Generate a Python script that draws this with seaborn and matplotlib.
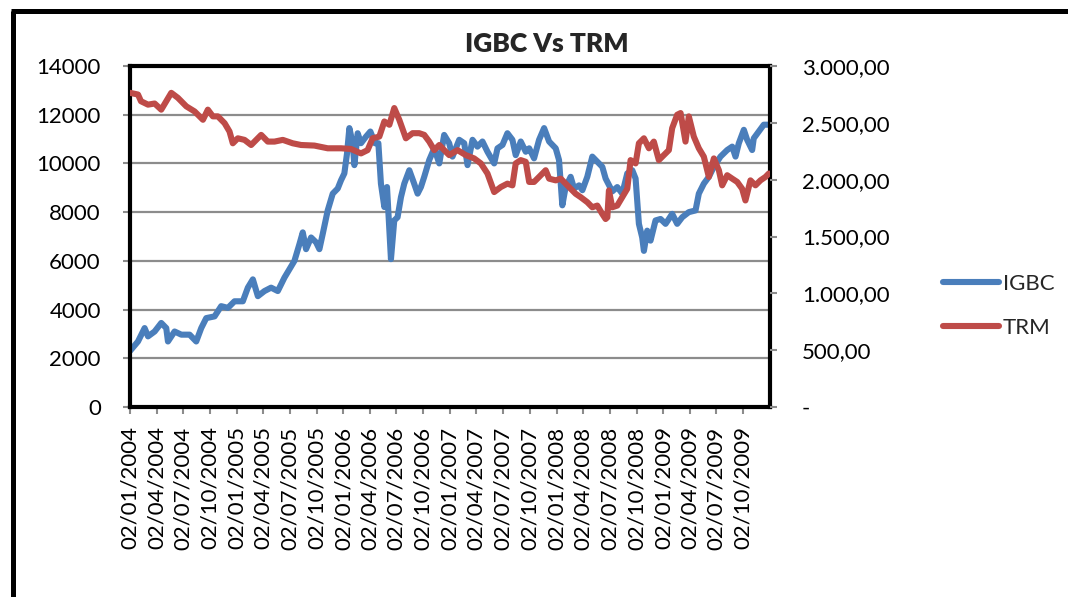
import numpy as np
import pandas as pd
import matplotlib
matplotlib.use("Agg")
import matplotlib.pyplot as plt
import matplotlib.dates as mdates
from matplotlib.lines import Line2D
import seaborn as sns

# ---------------- data (time as decimal year, 2004.0 = 02/01/2004) ----------------
igbc_t = [2004.000, 2004.075, 2004.137, 2004.169, 2004.231, 2004.293, 2004.340, 2004.356,
          2004.418, 2004.481, 2004.559, 2004.621, 2004.668, 2004.715, 2004.793, 2004.855,
          2004.918, 2004.980, 2005.058, 2005.105, 2005.152, 2005.199, 2005.261, 2005.323,
          2005.386, 2005.448, 2005.542, 2005.589, 2005.620, 2005.651, 2005.698, 2005.745,
          2005.776, 2005.807, 2005.854, 2005.901, 2005.948, 2005.979, 2006.010, 2006.035,
          2006.057, 2006.088, 2006.104, 2006.135, 2006.166, 2006.213, 2006.254, 2006.297,
          2006.329, 2006.353, 2006.385, 2006.410, 2006.447, 2006.478, 2006.509, 2006.541,
          2006.572, 2006.619, 2006.659, 2006.697, 2006.728, 2006.759, 2006.806, 2006.853,
          2006.900, 2006.946, 2006.993, 2007.024, 2007.087, 2007.134, 2007.165, 2007.212,
          2007.258, 2007.305, 2007.352, 2007.415, 2007.446, 2007.493, 2007.539, 2007.586,
          2007.617, 2007.664, 2007.711, 2007.743, 2007.789, 2007.836, 2007.883, 2007.930,
          2007.992, 2008.023, 2008.054, 2008.085, 2008.132, 2008.164, 2008.211, 2008.242,
          2008.288, 2008.335, 2008.382, 2008.429, 2008.460, 2008.522, 2008.569, 2008.616,
          2008.663, 2008.710, 2008.741, 2008.772, 2008.803, 2008.819, 2008.850, 2008.881,
          2008.928, 2008.975, 2009.022, 2009.053, 2009.084, 2009.131, 2009.178, 2009.240,
          2009.303, 2009.334, 2009.381, 2009.428, 2009.475, 2009.537, 2009.600, 2009.647,
          2009.678, 2009.709, 2009.756, 2009.787, 2009.834, 2009.849, 2009.896, 2009.943,
          2009.990]
igbc_v = [2300, 2690, 3240, 2900, 3100, 3450, 3240, 2690,
          3100, 2970, 2970, 2690, 3240, 3650, 3720, 4140,
          4070, 4340, 4340, 4900, 5240, 4550, 4760, 4900,
          4760, 5310, 6000, 6690, 7170, 6480, 6960, 6760,
          6480, 7100, 8070, 8760, 8970, 9310, 9590, 10410,
          11450, 10830, 9930, 11240, 10830, 11100, 11310, 10830,
          10830, 9170, 8210, 9030, 6070, 7660, 7790, 8620,
          9170, 9720, 9240, 8760, 9030, 9450, 10140, 10620,
          10000, 11170, 10830, 10280, 10970, 10830, 9930, 10970,
          10690, 10900, 10480, 10000, 10620, 10760, 11240, 10970,
          10340, 10900, 10480, 10620, 10210, 10970, 11450, 10900,
          10620, 10140, 8280, 9030, 9450, 8970, 9100, 8900,
          9450, 10280, 10070, 9860, 9380, 8850, 9030, 8760,
          9590, 9720, 9380, 7520, 6960, 6410, 7240, 6830,
          7660, 7720, 7520, 7720, 7930, 7520, 7790, 8000,
          8070, 8760, 9170, 9450, 9860, 10280, 10550, 10690,
          10280, 10830, 11380, 10970, 10550, 11030, 11310, 11590,
          11590]

trm_t = [2004.000, 2004.075, 2004.103, 2004.169, 2004.231, 2004.293, 2004.340, 2004.387,
         2004.449, 2004.528, 2004.606, 2004.684, 2004.730, 2004.777, 2004.824, 2004.887,
         2004.933, 2004.964, 2005.011, 2005.074, 2005.136, 2005.230, 2005.292, 2005.355,
         2005.433, 2005.526, 2005.604, 2005.729, 2005.854, 2005.979, 2006.072, 2006.166,
         2006.228, 2006.275, 2006.338, 2006.385, 2006.432, 2006.478, 2006.525, 2006.587,
         2006.650, 2006.712, 2006.759, 2006.806, 2006.853, 2006.900, 2006.946, 2006.993,
         2007.071, 2007.149, 2007.227, 2007.290, 2007.352, 2007.415, 2007.477, 2007.539,
         2007.586, 2007.617, 2007.664, 2007.711, 2007.743, 2007.789, 2007.836, 2007.898,
         2007.930, 2007.992, 2008.039, 2008.085, 2008.132, 2008.179, 2008.226, 2008.288,
         2008.335, 2008.382, 2008.429, 2008.460, 2008.476, 2008.491, 2008.522, 2008.569,
         2008.616, 2008.663, 2008.694, 2008.741, 2008.772, 2008.819, 2008.866, 2008.912,
         2008.959, 2009.006, 2009.053, 2009.084, 2009.131, 2009.163, 2009.209, 2009.240,
         2009.287, 2009.334, 2009.381, 2009.428, 2009.475, 2009.522, 2009.553, 2009.600,
         2009.647, 2009.694, 2009.740, 2009.771, 2009.818, 2009.865, 2009.912, 2009.959,
         2009.990]
trm_v = [2764, 2749, 2690, 2660, 2670, 2616, 2690, 2764,
         2720, 2645, 2600, 2527, 2616, 2557, 2557, 2497,
         2424, 2320, 2364, 2350, 2305, 2394, 2335, 2335,
         2350, 2320, 2305, 2300, 2276, 2276, 2270, 2231,
         2260, 2364, 2379, 2512, 2483, 2630, 2527, 2364,
         2409, 2409, 2394, 2335, 2260, 2305, 2260, 2216,
         2260, 2216, 2187, 2143, 2054, 1891, 1935, 1965,
         1950, 2143, 2172, 2157, 1980, 1980, 2024, 2083,
         2009, 1994, 2009, 1965, 1920, 1876, 1846, 1802,
         1757, 1772, 1698, 1654, 1668, 1905, 1757, 1772,
         1846, 1920, 2172, 2143, 2320, 2364, 2276, 2335,
         2172, 2216, 2260, 2453, 2571, 2586, 2335, 2557,
         2379, 2276, 2202, 2024, 2187, 2083, 1950, 2039,
         2009, 1980, 1920, 1817, 1994, 1950, 1994, 2024,
         2054]

left_ticks = [0, 2000, 4000, 6000, 8000, 10000, 12000, 14000]
right_ticks = [0, 500, 1000, 1500, 2000, 2500, 3000]
right_labels = ["-", "500,00", "1.000,00", "1.500,00", "2.000,00", "2.500,00", "3.000,00"]
x_start, x_end = "2004-01-02", "2010-01-02"
x_tick_last = "2009-10-02"
title = "IGBC Vs TRM"
names = ["IGBC", "TRM"]
colors = ["#4A7EBB", "#BE4B48"]

# ---------------- styling ----------------
sns.set_style("white")
plt.rcParams['font.family'] = ['Lato', 'DejaVu Sans']
FS = 16


def to_dates(t):
    base = pd.Timestamp(x_start)
    return base + pd.to_timedelta((np.asarray(t) - 2004.0) * 365.25, unit="D")


df_igbc = pd.DataFrame({"fecha": to_dates(igbc_t), "valor": igbc_v})
df_trm = pd.DataFrame({"fecha": to_dates(trm_t), "valor": trm_v})

W, H = 1068, 597
fig = plt.figure(figsize=(W / 100, H / 100), dpi=100)
fig.patch.set_facecolor("white")
ax = fig.add_axes([130 / W, 1 - 407 / H, 640 / W, 341 / H])
ax2 = ax.twinx()

line_kw = dict(linewidth=4.4, solid_capstyle="round", solid_joinstyle="round")
sns.lineplot(data=df_igbc, x="fecha", y="valor", ax=ax, color=colors[0], **line_kw)
sns.lineplot(data=df_trm, x="fecha", y="valor", ax=ax2, color=colors[1], **line_kw)

ax.set_xlim(pd.Timestamp(x_start), pd.Timestamp(x_end))
ax.set_ylim(0, 14000)
ax2.set_ylim(0, 3000)
ax.set_xlabel("")
ax.set_ylabel("")
ax2.set_xlabel("")
ax2.set_ylabel("")

xt = pd.date_range(x_start, x_tick_last, freq=pd.DateOffset(months=3))
ax.set_xticks(xt)
ax.xaxis.set_major_formatter(mdates.DateFormatter("%d/%m/%Y"))
ax.set_yticks(left_ticks)
ax.set_yticklabels([str(v) for v in left_ticks])
ax2.set_yticks(right_ticks)
ax2.set_yticklabels(right_labels)

ax.yaxis.grid(True, color="#8C8C8C", linewidth=1.6)
ax.xaxis.grid(False)
ax.set_axisbelow(True)

tick_col = "#8C8C8C"
ax.tick_params(axis="y", direction="out", length=5, width=1.5, color=tick_col,
               pad=16, labelsize=FS, labelcolor="black", left=True)
ax.tick_params(axis="x", direction="out", length=5, width=1.5, color=tick_col,
               pad=9, labelsize=FS, labelcolor="black", labelrotation=90, bottom=True)
ax2.tick_params(axis="y", direction="out", length=5, width=1.5, color=tick_col,
                pad=18, labelsize=FS, labelcolor="black", right=True)

for s in ax.spines.values():
    s.set_visible(True)
    s.set_color("black")
    s.set_linewidth(3)
for s in ax2.spines.values():
    s.set_visible(False)

# title
fig.text(547 / W, 1 - 44.5 / H, title, ha="center", va="center",
         fontsize=19, fontweight="heavy")

# legend
handles = [Line2D([0], [0], color=c, linewidth=4.4, solid_capstyle="round") for c in colors]
fig.legend(handles, names, loc="center left", bbox_to_anchor=(943 / W, 1 - 306 / H),
           frameon=False, fontsize=FS, handlelength=2.5, handletextpad=0.2,
           labelspacing=1.1, borderpad=0, borderaxespad=0)

# outer chart frame (only top and left edges are visible in the picture)
fig.add_artist(Line2D([12.5 / W, 12.5 / W], [0, 1 - 10.5 / H], transform=fig.transFigure,
                      color="black", linewidth=3.6, solid_capstyle="butt"))
fig.add_artist(Line2D([10.7 / W, 1], [1 - 10.5 / H, 1 - 10.5 / H], transform=fig.transFigure,
                      color="black", linewidth=3.6, solid_capstyle="butt"))

fig.savefig("out.png", dpi=100, facecolor="white")
